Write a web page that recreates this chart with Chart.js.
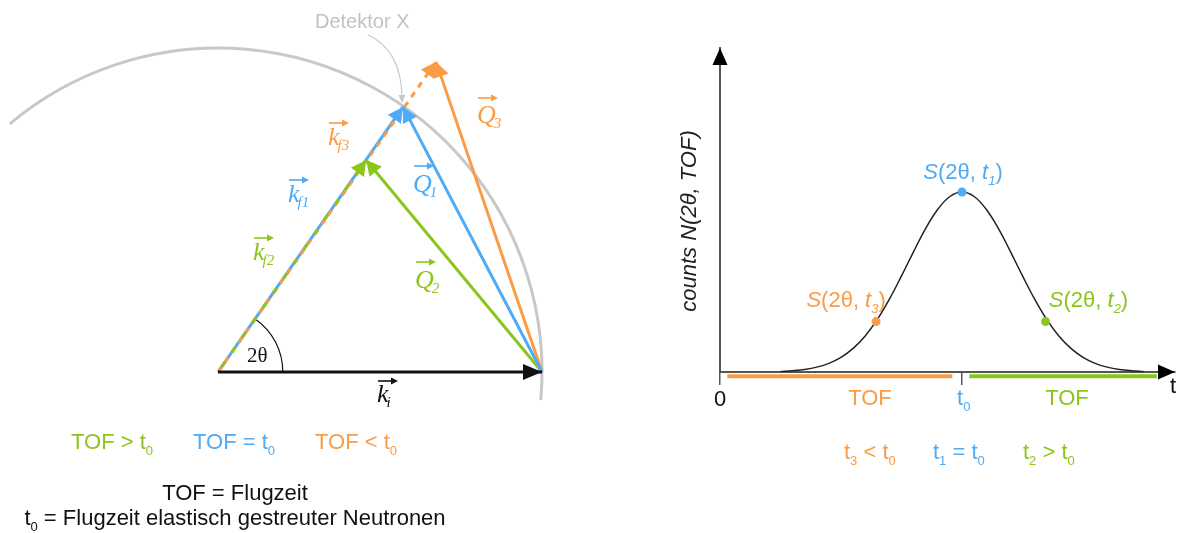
<!DOCTYPE html>
<html>
<head>
<meta charset="utf-8">
<title>Flugzeit-Spektroskopie</title>
<script src="https://cdn.jsdelivr.net/npm/chart.js@4/dist/chart.umd.min.js"></script>
<style>
  html, body { margin: 0; padding: 0; background: #ffffff; }
  #wrap { position: relative; width: 1180px; height: 533px; overflow: hidden; background: #ffffff; }
  canvas { position: absolute; top: 0; }
  #vec { left: 0; width: 600px; height: 533px; }
  #tof { left: 600px; width: 580px; height: 533px; }
</style>
</head>
<body>
<div id="wrap">
  <canvas id="vec" width="600" height="533"></canvas>
  <canvas id="tof" width="580" height="533"></canvas>
</div>
<script>
// ---- colours & fonts ----
const GREEN = '#8cc51c';
const BLUE = '#4eabf6';
const ORANGE = '#fa9c45';
const INK = '#111111';
const GREY = '#c8c8c8';
const SANS = '"Liberation Sans", Arial, sans-serif';
const SERIF = '"Liberation Serif", "Times New Roman", serif';
const DEG = Math.PI / 180;

// ---- scattering triangle (units: |k_i| = 10) ----
const kiVector = [10, 0];
const kfNames = ['k_f1', 'k_f2', 'k_f3'];
const kfX = [5.71, 4.57, 6.73];
const kfY = [8.18, 6.54, 9.57];
const detectorRadius = 10;
const detectorArcDeg = [-5, 130];
const twoThetaDeg = 55;
const twoThetaRadius = 2;

// ---- time-of-flight spectrum ----
const tofTimes  = [2.5, 3, 3.5, 4, 4.5, 5, 5.5, 6, 6.5, 7, 7.5, 8, 8.5, 9, 9.5, 10,
                   10.5, 11, 11.5, 12, 12.5, 13, 13.5, 14, 14.5, 15, 15.5, 16, 16.5, 17, 17.5];
const tofCounts = [0.003, 0.007, 0.014, 0.027, 0.048, 0.081, 0.131, 0.200, 0.292, 0.405, 0.534, 0.669, 0.798, 0.904, 0.975, 1.000,
                   0.975, 0.904, 0.798, 0.669, 0.534, 0.405, 0.292, 0.200, 0.131, 0.081, 0.048, 0.027, 0.014, 0.007, 0.003];
const markNames  = ['t3', 't1', 't2'];
const markTimes  = [6.45, 10, 13.45];
const markCounts = [0.28, 1.00, 0.28];
const xTickValues = [0, 10];
const xTickLabels = ['0', ''];
const tofBefore = [0.3, 9.6];   // TOF < t0
const tofAfter  = [10.3, 18.05]; // TOF > t0

// ---- text helpers ----
function fontFor(flags, size, family) {
  const sub = flags.includes('s');
  const it = flags.includes('i');
  const sz = sub ? Math.round(size * 0.6) : size;
  return (it ? 'italic ' : '') + sz + 'px ' + family;
}
function drawRich(ctx, x, y, parts, opt) {
  const size = opt.size || 22;
  const family = opt.family || SANS;
  let total = 0;
  const widths = parts.map(([t, f = '']) => {
    ctx.font = fontFor(f, size, family);
    const w = ctx.measureText(t).width;
    total += w;
    return w;
  });
  let cx = opt.align === 'center' ? x - total / 2 : (opt.align === 'right' ? x - total : x);
  ctx.textAlign = 'left';
  ctx.textBaseline = 'alphabetic';
  ctx.fillStyle = opt.color;
  parts.forEach(([t, f = ''], i) => {
    ctx.font = fontFor(f, size, family);
    ctx.fillText(t, cx, y + (f.includes('s') ? size * 0.27 : 0));
    cx += widths[i];
  });
}
function vecLabel(ctx, x, y, main, sub, color, rise) {
  ctx.save();
  ctx.fillStyle = color;
  ctx.strokeStyle = color;
  ctx.textAlign = 'left';
  ctx.textBaseline = 'alphabetic';
  ctx.font = 'italic 26px ' + SERIF;
  ctx.fillText(main, x, y);
  const w = ctx.measureText(main).width;
  ctx.font = 'italic 15px ' + SERIF;
  ctx.fillText(sub, x + w - 2, y + 5);
  // vector arrow above the symbol
  const ay = y - rise, x0 = x + 1, x1 = x + 21;
  ctx.lineWidth = 1.6;
  ctx.beginPath(); ctx.moveTo(x0, ay); ctx.lineTo(x1 - 4, ay); ctx.stroke();
  ctx.beginPath(); ctx.moveTo(x1, ay); ctx.lineTo(x1 - 7, ay - 3.5); ctx.lineTo(x1 - 7, ay + 3.5); ctx.closePath(); ctx.fill();
  ctx.restore();
}

// ---- left: wave-vector diagram ----
const seg = (x0, y0, x1, y1) => [{ x: x0, y: y0 }, { x: x1, y: y1 }];
const vecDs = (label, data, color, extra) => Object.assign({
  label, data, borderColor: color, backgroundColor: color, borderWidth: 3,
  showLine: true, pointRadius: 0, clip: false, headLength: 15, headHalf: 8
}, extra || {});

const vectorPlugin = {
  id: 'vectorDecor',
  beforeDatasetsDraw(chart) {
    const { ctx, scales: { x, y } } = chart;
    const cx = x.getPixelForValue(0), cy = y.getPixelForValue(0);
    const r = x.getPixelForValue(detectorRadius) - cx;
    ctx.save();
    ctx.strokeStyle = GREY;
    ctx.lineWidth = 3;
    ctx.beginPath();
    ctx.arc(cx, cy, r, -detectorArcDeg[1] * DEG, -detectorArcDeg[0] * DEG);
    ctx.stroke();
    const r2 = x.getPixelForValue(twoThetaRadius) - cx;
    ctx.strokeStyle = INK;
    ctx.lineWidth = 1.2;
    ctx.beginPath();
    ctx.arc(cx, cy, r2, -twoThetaDeg * DEG, 0);
    ctx.stroke();
    ctx.restore();
  },
  afterDatasetsDraw(chart) {
    const ctx = chart.ctx;
    const idx = chart.data.datasets.map((d, i) => i)
      .sort((a, b) => chart.data.datasets[b].order - chart.data.datasets[a].order);
    idx.forEach(i => {
      const ds = chart.data.datasets[i];
      const pts = chart.getDatasetMeta(i).data;
      const a = pts[0], b = pts[pts.length - 1];
      const ang = Math.atan2(b.y - a.y, b.x - a.x);
      ctx.save();
      ctx.translate(b.x, b.y);
      ctx.rotate(ang);
      ctx.fillStyle = ds.borderColor;
      ctx.beginPath();
      ctx.moveTo(0, 0);
      ctx.lineTo(-ds.headLength, -ds.headHalf);
      ctx.lineTo(-ds.headLength, ds.headHalf);
      ctx.closePath();
      ctx.fill();
      ctx.restore();
    });
  },
  afterDraw(chart) {
    const ctx = chart.ctx;
    ctx.save();
    // detector label with pointer
    ctx.fillStyle = '#c2c2c2';
    ctx.font = '20px ' + SANS;
    ctx.textAlign = 'left';
    ctx.textBaseline = 'alphabetic';
    ctx.fillText('Detektor X', 315, 28);
    ctx.strokeStyle = '#c8c8c8';
    ctx.lineWidth = 1.2;
    ctx.beginPath();
    ctx.moveTo(368, 35);
    ctx.quadraticCurveTo(401, 50, 402, 97);
    ctx.stroke();
    ctx.fillStyle = '#c8c8c8';
    ctx.beginPath();
    ctx.moveTo(402, 103); ctx.lineTo(398.5, 95); ctx.lineTo(405.5, 95); ctx.closePath(); ctx.fill();

    // vector symbols
    vecLabel(ctx, 328, 145, 'k', 'f3', ORANGE, 22);
    vecLabel(ctx, 288, 202, 'k', 'f1', BLUE, 22);
    vecLabel(ctx, 253, 260, 'k', 'f2', GREEN, 22);
    vecLabel(ctx, 413, 192, 'Q', '1', BLUE, 26);
    vecLabel(ctx, 415, 288, 'Q', '2', GREEN, 26);
    vecLabel(ctx, 477, 123, 'Q', '3', ORANGE, 25);
    vecLabel(ctx, 377, 402, 'k', 'i', INK, 21);

    // scattering angle
    ctx.fillStyle = INK;
    ctx.font = '21px ' + SERIF;
    ctx.textAlign = 'left';
    ctx.fillText('2θ', 247, 362);

    // time-of-flight legend
    drawRich(ctx, 71, 449, [['TOF > t'], ['0', 's']], { color: GREEN });
    drawRich(ctx, 193, 449, [['TOF = t'], ['0', 's']], { color: BLUE });
    drawRich(ctx, 315, 449, [['TOF < t'], ['0', 's']], { color: ORANGE });
    drawRich(ctx, 235, 500, [['TOF = Flugzeit']], { color: INK, align: 'center' });
    drawRich(ctx, 235, 525, [['t'], ['0', 's'], [' = Flugzeit elastisch gestreuter Neutronen']], { color: INK, align: 'center' });
    ctx.restore();
  }
};

new Chart(document.getElementById('vec'), {
  type: 'scatter',
  data: {
    datasets: [
      vecDs('k_i', seg(0, 0, kiVector[0], kiVector[1]), INK, { order: 1, headLength: 19, headHalf: 8 }),
      vecDs('Q_1', seg(kiVector[0], kiVector[1], kfX[0], kfY[0]), BLUE, { order: 2 }),
      vecDs('Q_2', seg(kiVector[0], kiVector[1], kfX[1], kfY[1]), GREEN, { order: 3 }),
      vecDs('Q_3', seg(kiVector[0], kiVector[1], kfX[2], kfY[2]), ORANGE, { order: 4 }),
      vecDs(kfNames[1], seg(0, 0, kfX[1], kfY[1]), GREEN, { order: 5, borderDash: [6, 12], borderDashOffset: -6 }),
      vecDs(kfNames[2], seg(0, 0, kfX[2], kfY[2]), ORANGE, { order: 6, borderDash: [6, 6] }),
      vecDs(kfNames[0], seg(0, 0, kfX[0], kfY[0]), BLUE, { order: 7 })
    ]
  },
  options: {
    responsive: false,
    animation: false,
    events: [],
    layout: { padding: 0 },
    plugins: { legend: { display: false }, tooltip: { enabled: false } },
    scales: {
      x: { type: 'linear', display: false, min: -6.73, max: 11.79 },
      y: { type: 'linear', display: false, min: -4.97, max: 11.48 }
    }
  },
  plugins: [vectorPlugin]
});

// ---- right: counts versus time of flight ----
const barLevel = -0.024;
const spectrumPlugin = {
  id: 'spectrumDecor',
  afterDraw(chart) {
    const { ctx, chartArea: ca, scales: { x, y } } = chart;
    ctx.save();
    // axis arrowheads
    ctx.fillStyle = '#000';
    ctx.beginPath();
    ctx.moveTo(ca.right, ca.bottom); ctx.lineTo(ca.right - 17, ca.bottom - 7.5); ctx.lineTo(ca.right - 17, ca.bottom + 7.5); ctx.closePath(); ctx.fill();
    ctx.beginPath();
    ctx.moveTo(ca.left, ca.top); ctx.lineTo(ca.left - 7.5, ca.top + 17); ctx.lineTo(ca.left + 7.5, ca.top + 17); ctx.closePath(); ctx.fill();

    // axis title
    ctx.save();
    ctx.translate(90, 221);
    ctx.rotate(-Math.PI / 2);
    ctx.fillStyle = '#222';
    ctx.font = 'italic 22px ' + SANS;
    ctx.textAlign = 'center';
    ctx.textBaseline = 'middle';
    ctx.fillText('counts N(2θ, TOF)', 0, 0);
    ctx.restore();

    drawRich(ctx, ca.right - 5, 393, [['t']], { color: INK });
    const t0x = x.getPixelForValue(xTickValues[1]);
    drawRich(ctx, t0x - 5, 405, [['t'], ['0', 's']], { color: BLUE });
    drawRich(ctx, 270, 405, [['TOF']], { color: ORANGE, align: 'center' });
    drawRich(ctx, 467, 405, [['TOF']], { color: GREEN, align: 'center' });

    drawRich(ctx, 244, 459, [['t'], ['3', 's'], [' < t'], ['0', 's']], { color: ORANGE });
    drawRich(ctx, 333, 459, [['t'], ['1', 's'], [' = t'], ['0', 's']], { color: BLUE });
    drawRich(ctx, 423, 459, [['t'], ['2', 's'], [' > t'], ['0', 's']], { color: GREEN });

    // labels of the marked points
    const colours = [ORANGE, BLUE, GREEN];
    const shift = [-30, 1, 43];
    const lift = [15, 13, 15];
    const subs = ['3', '1', '2'];
    markTimes.forEach((t, i) => {
      const px = x.getPixelForValue(t), py = y.getPixelForValue(markCounts[i]);
      drawRich(ctx, px + shift[i], py - lift[i],
        [['S', 'i'], ['(2θ, '], ['t', 'i'], [subs[i], 'si'], [')']],
        { color: colours[i], align: 'center' });
    });
    ctx.restore();
  }
};

new Chart(document.getElementById('tof'), {
  type: 'scatter',
  data: {
    datasets: [
      {
        label: 'S(2θ, t)', order: 0,
        data: markTimes.map((t, i) => ({ x: t, y: markCounts[i] })),
        pointRadius: 4.5, pointBorderWidth: 0,
        pointBackgroundColor: [ORANGE, BLUE, GREEN], showLine: false, clip: false
      },
      {
        label: 'N(2θ, TOF)', order: 2,
        data: tofTimes.map((t, i) => ({ x: t, y: tofCounts[i] })),
        borderColor: '#222', borderWidth: 1.5, showLine: true, pointRadius: 0,
        tension: 0.4
      },
      {
        label: 'TOF < t0', order: 3,
        data: seg(tofBefore[0], barLevel, tofBefore[1], barLevel),
        borderColor: ORANGE, borderWidth: 4, showLine: true, pointRadius: 0, clip: false
      },
      {
        label: 'TOF > t0', order: 3,
        data: seg(tofAfter[0], barLevel, tofAfter[1], barLevel),
        borderColor: GREEN, borderWidth: 4, showLine: true, pointRadius: 0, clip: false
      }
    ]
  },
  options: {
    responsive: false,
    animation: false,
    events: [],
    layout: { padding: { top: 48, right: 5, left: 0, bottom: 0 } },
    plugins: { legend: { display: false }, tooltip: { enabled: false } },
    scales: {
      x: {
        type: 'linear', min: 0, max: 18.8,
        afterFit(s) { s.height = 161; },
        afterBuildTicks(s) { s.ticks = xTickValues.map(v => ({ value: v })); },
        grid: { display: true, drawOnChartArea: false, drawTicks: true, tickLength: 13, color: '#555', lineWidth: 1.5 },
        border: { display: true, color: '#555', width: 2 },
        ticks: {
          autoSkip: false, maxRotation: 0, padding: 2,
          color: INK, font: { family: SANS, size: 22 },
          callback: (v) => xTickLabels[xTickValues.indexOf(v)] ?? ''
        }
      },
      y: {
        type: 'linear', min: 0, max: 1.8,
        afterFit(s) { s.width = 120; },
        grid: { display: false },
        border: { display: true, color: '#555', width: 2 },
        ticks: { display: false }
      }
    }
  },
  plugins: [spectrumPlugin]
});
</script>
</body>
</html>
